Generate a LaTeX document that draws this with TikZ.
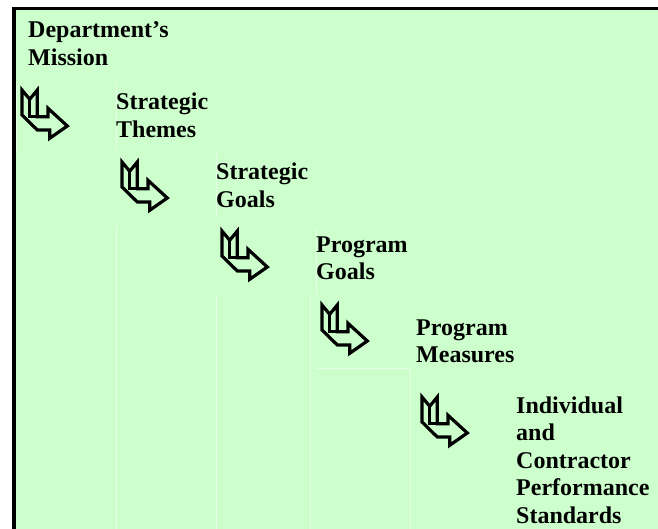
\documentclass[tikz,border=0pt]{standalone}
\usepackage{fontspec}
\setmainfont{Liberation Serif}
\usepackage{tikz}
\definecolor{stepgreen}{HTML}{CCFFCC}
\newcommand{\bendarrow}[1]{%
    \begin{scope}[shift={#1},line width=3.2pt]
        \draw[line join=miter]
            (0,0) -- (7.7,9.3) -- (15.3,0) -- (15.3,26.7) -- (26,26.7) -- (26,18.3)
            -- (45.3,36) -- (27.7,48.3) -- (27.7,40) -- (15.3,40) -- (0,25) -- cycle;
        \draw (7.7,9.3) -- (7.7,26.7) -- (15.3,26.7);
    \end{scope}}

\begin{document}
\begin{tikzpicture}[x=1pt,y=-1pt,
    level/.style={anchor=base west,inner sep=0pt,text width=150pt,align=left,
        font=\bfseries\fontsize{24}{27.5}\selectfont},
    cellline/.style={white,line width=0.5pt,opacity=0.5}]
    \useasboundingbox (0,0) rectangle (658,529);
    \fill[stepgreen] (12,7) rectangle (658,529);
    \fill[black] (12,7) rectangle (16,529);
    \fill[black] (12,7) rectangle (658,10.5);

    \draw[cellline] (16.5,82) -- (16.5,153);
    \draw[cellline] (116,82) -- (116,150);
    \draw[cellline] (216,153) -- (216,217);
    \draw[cellline] (116,225) -- (116,529);
    \draw[cellline] (316,228) -- (316,295);
    \draw[cellline] (216,295) -- (216,529);
    \draw[cellline] (310,295) -- (310,529);
    \draw[cellline] (316,368) -- (410,368) -- (410,529);

    \node[level] (mission) at (28,38) {Department’s\\Mission};
    \node[level] (themes) at (116,110) {Strategic\\Themes};
    \node[level] (stratgoals) at (216,180) {Strategic\\Goals};
    \node[level] (proggoals) at (316,252) {Program\\Goals};
    \node[level] (measures) at (416,335) {Program\\Measures};
    \node[level] (standards) at (516,413) {Individual\\and\\Contractor\\Performance\\Standards};

    \bendarrow{(22,90)}
    \bendarrow{(122,162)}
    \bendarrow{(222,231)}
    \bendarrow{(322,305)}
    \bendarrow{(422,397)}
\end{tikzpicture}
\end{document}
